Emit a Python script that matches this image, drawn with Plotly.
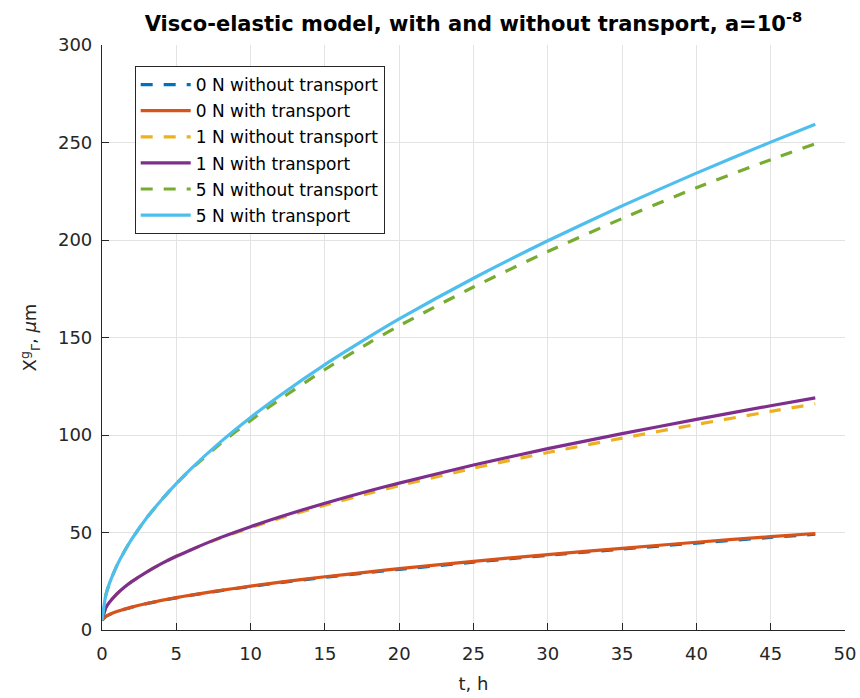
import plotly.graph_objects as go

t = [0, 0.25, 0.5, 1, 1.5, 2, 3, 4, 5, 6, 8, 10, 12, 15, 18, 20, 25, 30, 35, 40, 45, 48]

n0_without = [5, 6.9, 7.9, 9.4, 10.6, 11.7, 13.5, 15.1, 16.5, 17.8, 20.2, 22.3, 24.3, 27.0, 29.5, 31.1, 34.8, 38.3, 41.5, 44.6, 47.5, 49.1]
n0_with = [5, 6.95, 7.95, 9.45, 10.66, 11.72, 13.56, 15.16, 16.6, 17.92, 20.33, 22.5, 24.53, 27.29, 29.84, 31.5, 35.2, 38.7, 41.9, 45.0, 47.9, 49.5]
n1_without = [5, 11.3, 14.2, 18.5, 21.9, 24.8, 29.7, 34.0, 37.8, 41.1, 47.3, 52.5, 57.4, 64.0, 70.2, 74.0, 83.0, 91.0, 98.4, 105.4, 112.1, 116.0]
n1_with = [5, 11.3, 14.2, 18.5, 21.9, 24.8, 29.7, 34.0, 37.8, 41.2, 47.5, 53.0, 58.1, 65.0, 71.4, 75.3, 84.6, 93.0, 100.7, 108.0, 115.0, 119.0]
n5_without = [5, 17.7, 23.9, 33.0, 40.3, 46.6, 57.4, 66.7, 75.1, 82.5, 95.8, 107.5, 118.4, 133.6, 147.4, 156.0, 175.9, 194.1, 211.0, 226.8, 241.2, 249.4]
n5_with = [5, 17.7, 23.9, 33.0, 40.3, 46.6, 57.4, 66.7, 75.1, 82.8, 96.6, 109.0, 120.4, 136.1, 150.4, 159.5, 180.4, 199.6, 217.5, 234.3, 250.2, 259.4]

series = [
    ("0 N without transport", n0_without, "#0072BD", "12px,11px"),
    ("0 N with transport", n0_with, "#D95319", "solid"),
    ("1 N without transport", n1_without, "#EDB120", "12px,11px"),
    ("1 N with transport", n1_with, "#7E2F8E", "solid"),
    ("5 N without transport", n5_without, "#77AC30", "12px,11px"),
    ("5 N with transport", n5_with, "#4DBEEE", "solid"),
]

fig = go.Figure()
for i, (name, ys, color, dash) in enumerate(series):
    fig.add_trace(go.Scatter(
        x=t, y=ys, name=name, mode="lines", legendgroup=f"g{i}",
        line=dict(color=color, width=3.2, dash=dash, shape="spline", smoothing=0.6),
    ))

font_family = "DejaVu Sans, Verdana, sans-serif"
axis_common = dict(
    showline=True, linecolor="#262626", linewidth=1.2, mirror=False,
    ticks="inside", ticklen=7, tickcolor="#262626", tickwidth=1.2,
    showgrid=True, gridcolor="#e3e3e3", gridwidth=1,
    zeroline=False, automargin=False,
    tickfont=dict(family=font_family, size=18, color="#262626"),
)

fig.update_layout(
    width=860, height=698,
    paper_bgcolor="white", plot_bgcolor="white",
    margin=dict(l=102, r=15, t=45, b=68),
    title=dict(
        text="<b>Visco-elastic model, with and without transport, a=10<sup>-8</sup></b>",
        x=(102 + 845) / 2 / 860, xanchor="center", y=0.966, yanchor="middle",
        font=dict(family=font_family, size=21, color="black"),
    ),
    xaxis=dict(range=[0, 50], dtick=5, tick0=0, ticklabelstandoff=7,
               title=dict(text="t, h", font=dict(family=font_family, size=18, color="#262626"), standoff=14),
               **axis_common),
    yaxis=dict(range=[0, 300], dtick=50, tick0=0, ticklabelstandoff=5,
               title=dict(text="X<sup>g</sup><sub>Γ</sub>, <i>μ</i>m", font=dict(family=font_family, size=18, color="#262626"), standoff=16),
               **axis_common),
    legend=dict(
        x=0.044, y=0.964, xanchor="left", yanchor="top",
        bgcolor="white", bordercolor="#262626", borderwidth=1,
        font=dict(family=font_family, size=17, color="black"),
        itemwidth=50, tracegroupgap=1,
    ),
    showlegend=True,
)

fig.write_html("out.html")
